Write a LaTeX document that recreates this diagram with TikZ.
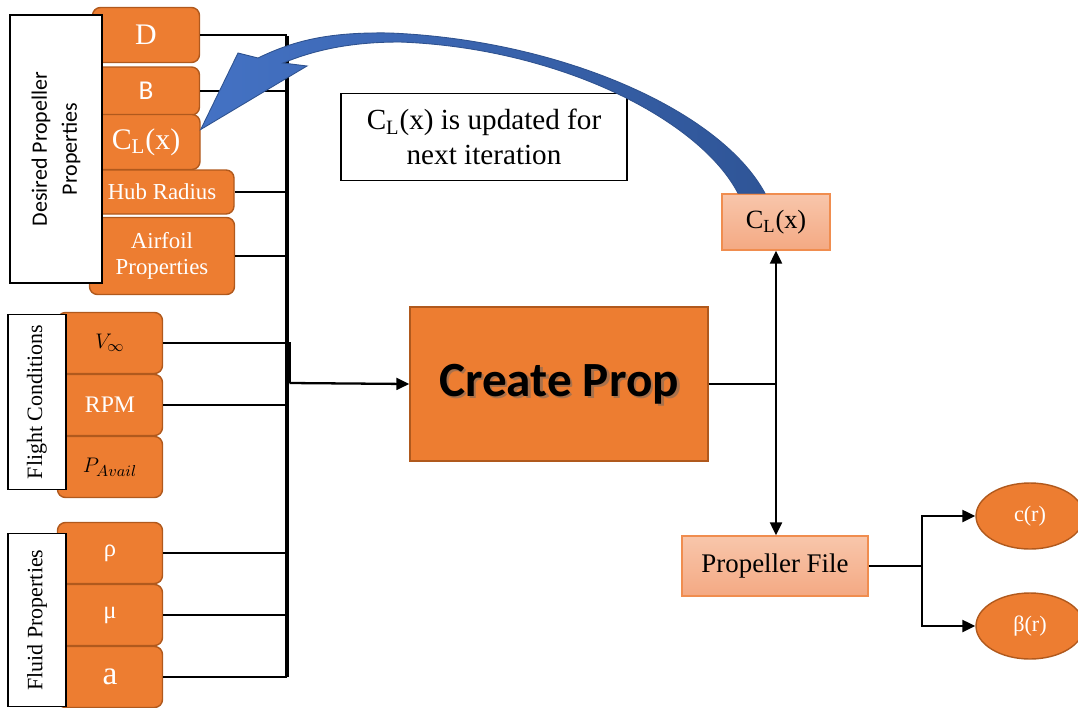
\documentclass[tikz,border=0pt]{standalone}
\usepackage{fontspec}
\setmainfont{Liberation Serif}
\newfontfamily\calibri{Carlito}
\usetikzlibrary{arrows.meta,shapes.geometric}

\definecolor{propOrange}{HTML}{ED7D31}
\definecolor{propEdge}{HTML}{B0591D}
\definecolor{fileTop}{HTML}{F8C6AB}
\definecolor{fileBottom}{HTML}{F4A983}
\definecolor{fileEdge}{HTML}{F08D4F}
\definecolor{loopBlue}{HTML}{4472C4}
\definecolor{loopDark}{HTML}{2F5597}
\definecolor{loopEdge}{HTML}{2F528F}

\newlength{\pxu}
\setlength{\pxu}{0.02cm}
\newcommand{\fsz}[2]{\fontsize{#1pt}{#2pt}\selectfont}
\newcommand{\CLx}{C\textsubscript{L}(x)}

\begin{document}
\begin{tikzpicture}[
    x=0.02cm, y=-0.02cm,
    every node/.style={align=center, inner sep=0pt},
    dims/.style 2 args={minimum width=#1*\pxu, minimum height=#2*\pxu},
    input/.style={draw=propEdge, line width=0.8pt, fill=propOrange, rounded corners=0.16cm, text=white},
    group/.style={draw, line width=0.6pt, fill=white, rotate=90},
    wire/.style={draw, line width=1.3pt},
    bus/.style={draw, line width=2.6pt},
    arrow/.style={wire, -{Triangle[length=0.26cm,width=0.24cm]}},
    filebox/.style={draw=fileEdge, line width=0.8pt, top color=fileTop, bottom color=fileBottom},
    output/.style={ellipse, draw=propEdge, line width=0.8pt, fill=propOrange, text=white},
    ]
\useasboundingbox (0,0) rectangle (1078,707);

% desired propeller properties
\node[input, dims={107}{55}, font=\fsz{17}{20}] (D) at (146,35) {D};
\node[input, dims={107}{48}, font=\calibri\fsz{15.5}{17}] (B) at (146,91) {B};
\node[input, dims={108}{55}, font=\fsz{17}{20}] (CLin) at (146,142) {\CLx};
\node[input, dims={144}{44}, font=\fsz{13}{15}] (hub) at (162,192) {Hub Radius};
\node[input, dims={145}{77}, font=\fsz{13}{15}] (airfoil) at (162,256) {Airfoil\\Properties};
\node[group, dims={268}{92}, font=\calibri\fsz{12.5}{17}] (desired) at (56,149) {Desired Propeller\\Properties};

% flight conditions
\node[input, dims={105}{61}, text=black, font=\fsz{12.5}{14}] (Vinf) at (110,343) {$V_\infty$};
\node[input, dims={105}{61}, font=\fsz{13.5}{15}] (rpm) at (110,405) {RPM};
\node[input, dims={105}{61}, text=black, font=\fsz{12.5}{14}] (pav) at (110,467) {$P_{Avail}$};
\node[group, dims={175}{58}, font=\fsz{12.5}{14}] (flight) at (37,402) {Flight Conditions};

% fluid properties
\node[input, dims={105}{61}, font=\fsz{14}{16}] (rho) at (110,553) {ρ};
\node[input, dims={105}{61}, font=\fsz{14}{16}] (mu) at (110,615) {μ};
\node[input, dims={105}{61}, font=\fsz{19}{21}] (snd) at (110,677) {a};
\node[group, dims={173}{58}, font=\fsz{12.5}{14}] (fluid) at (37,620) {Fluid Properties};

% solver and its outputs
\node[draw=propEdge, line width=0.8pt, fill=propOrange, dims={298}{154}] (create) at (559,384) {};
\node[font=\calibri\bfseries\fsz{28}{30}, text=black!60, opacity=0.5] at ([xshift=0.05cm,yshift=-0.05cm]create.center) {Create Prop};
\node[font=\calibri\bfseries\fsz{28}{30}] (createtxt) at (create.center) {Create Prop};
\node[filebox, dims={108}{56}, font=\fsz{15}{17}] (CLout) at (776,222) {\CLx};
\node[filebox, dims={186}{60}, font=\fsz{15.3}{17}] (pfile) at (775,566) {Propeller File};
\node[output, dims={108}{66}, font=\fsz{12.6}{14}] (cr) at (1030,516) {c(r)};
\node[output, dims={108}{66}, font=\fsz{12.6}{14}] (br) at (1030,626) {β(r)};
\node[draw, line width=0.8pt, fill=white, dims={286}{87}, font=\fsz{16.6}{20}] (note) at (484,137) {\CLx{} is updated for\\next iteration};

% collecting bus
\coordinate (bustop) at (287,36);
\coordinate (busbot) at (287,677);
\coordinate (busjoin) at (289.5,383);
\draw[bus] (bustop) -- (busbot);
\foreach \n in {D,B,hub,airfoil,rpm,rho,mu,snd}
  \draw[wire] (\n.east) -- (\n.east -| bustop);
\draw[wire] (Vinf.east) -| (busjoin);
\draw[arrow] (busjoin) -- (create.west);

% outputs
\coordinate (split) at (create.east -| CLout.south);
\draw[wire] (create.east) -- (split);
\draw[arrow] (split) -- (CLout.south);
\draw[arrow] (split) -- (split |- pfile.north);
\coordinate (fork) at (922,566);
\draw[wire] (pfile.east) -- (fork);
\draw[arrow] (fork) |- (cr.west);
\draw[arrow] (fork) |- (br.west);

% feedback of the lift distribution
\draw[loopEdge, line width=0.5pt, left color=loopBlue, right color=loopDark]
  ([xshift=-0.76cm]CLout.north) .. controls (700,120) and (560,48) .. (400,42)
  .. controls (345,42) and (310,52) .. (283,63) -- (307,66)
  -- ([yshift=0.25cm]CLin.east) -- (238,53) -- (258,58)
  .. controls (295,40) and (330,32) .. (390,33)
  .. controls (560,40) and (720,110) .. ([xshift=-0.22cm]CLout.north) -- cycle;
\end{tikzpicture}
\end{document}
